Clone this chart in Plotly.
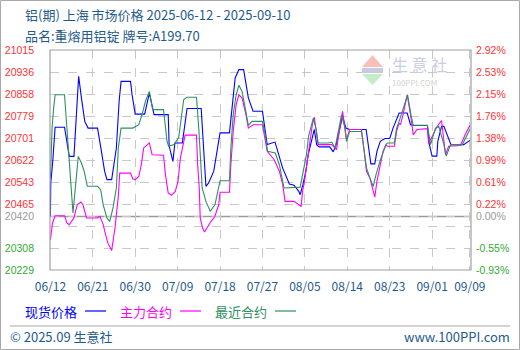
import numpy as np
import plotly.graph_objects as go

# ---- series: spot price, main contract, nearest contract ----
spot_dates = ["2025-06-12 00:00", "2025-06-12 02:00", "2025-06-12 12:00", "2025-06-13 00:00", "2025-06-15 00:00",
              "2025-06-15 10:00", "2025-06-16 00:00", "2025-06-17 00:00", "2025-06-18 00:00", "2025-06-18 14:00",
              "2025-06-19 07:00", "2025-06-20 00:00", "2025-06-22 00:00", "2025-06-22 17:00", "2025-06-23 12:00",
              "2025-06-24 00:00", "2025-06-25 00:00", "2025-06-26 00:00", "2025-06-26 14:00", "2025-06-27 00:00",
              "2025-06-29 00:00", "2025-06-29 08:00", "2025-06-30 00:00", "2025-07-02 00:00", "2025-07-03 00:00",
              "2025-07-04 00:00", "2025-07-07 00:00", "2025-07-07 05:00", "2025-07-08 00:00", "2025-07-08 10:00",
              "2025-07-10 00:00", "2025-07-11 00:00", "2025-07-14 00:00", "2025-07-15 00:00", "2025-07-15 14:00",
              "2025-07-16 16:00", "2025-07-17 12:00", "2025-07-18 00:00", "2025-07-20 00:00", "2025-07-20 10:00",
              "2025-07-20 19:00", "2025-07-21 05:00", "2025-07-22 00:00", "2025-07-23 00:00", "2025-07-24 00:00",
              "2025-07-25 00:00", "2025-07-27 00:00", "2025-07-28 00:00", "2025-07-29 16:00", "2025-07-31 07:00",
              "2025-08-01 17:00", "2025-08-02 17:00", "2025-08-03 17:00", "2025-08-04 00:00", "2025-08-04 14:00",
              "2025-08-05 05:00", "2025-08-05 17:00", "2025-08-06 10:00", "2025-08-07 00:00", "2025-08-07 12:00",
              "2025-08-08 00:00", "2025-08-10 07:00", "2025-08-11 00:00", "2025-08-11 14:00", "2025-08-12 07:00",
              "2025-08-13 00:00", "2025-08-13 17:00", "2025-08-14 12:00", "2025-08-18 00:00", "2025-08-18 10:00",
              "2025-08-19 00:00", "2025-08-19 20:00", "2025-08-20 07:00", "2025-08-21 00:00", "2025-08-22 00:00",
              "2025-08-23 00:00", "2025-08-23 17:00", "2025-08-25 00:00", "2025-08-26 17:00", "2025-08-27 10:00",
              "2025-08-28 00:00", "2025-08-31 00:00", "2025-08-31 10:00", "2025-09-01 00:00", "2025-09-02 00:00",
              "2025-09-02 05:00", "2025-09-03 00:00", "2025-09-03 12:00", "2025-09-04 05:00", "2025-09-05 00:00",
              "2025-09-07 17:00", "2025-09-09 00:00"]
spot_prices = [20420, 20540, 20617, 20739, 20739, 20689, 20635, 20635, 20921, 20844,
               20760, 20736, 20736, 20665, 20582, 20552, 20552, 20665, 20832, 20903,
               20903, 20855, 20786, 20786, 20861, 20784, 20784, 20671, 20617, 20683,
               20683, 20806, 20806, 20528, 20540, 20582, 20660, 20719, 20719, 20784,
               20867, 20915, 20945, 20945, 20844, 20796, 20796, 20677, 20686, 20593,
               20536, 20532, 20510, 20498, 20534, 20582, 20641, 20689, 20731, 20677,
               20669, 20669, 20651, 20673, 20724, 20778, 20736, 20731, 20731, 20677,
               20608, 20608, 20653, 20689, 20699, 20699, 20736, 20790, 20790, 20748,
               20745, 20745, 20677, 20636, 20636, 20689, 20742, 20742, 20712, 20677,
               20677, 20692]

main_dates = ["2025-06-12 00:00", "2025-06-12 11:00", "2025-06-13 00:00", "2025-06-15 00:00", "2025-06-15 12:00",
              "2025-06-16 00:00", "2025-06-16 12:00", "2025-06-17 00:00", "2025-06-17 08:00", "2025-06-17 17:00",
              "2025-06-18 11:00", "2025-06-18 22:00", "2025-06-19 16:00", "2025-06-22 00:00", "2025-06-22 12:00",
              "2025-06-23 05:00", "2025-06-23 17:00", "2025-06-24 05:00", "2025-06-25 00:00", "2025-06-25 07:00",
              "2025-06-25 17:00", "2025-06-26 00:00", "2025-06-26 10:00", "2025-06-26 17:00", "2025-06-29 00:00",
              "2025-06-29 12:00", "2025-06-30 00:00", "2025-06-30 18:00", "2025-07-01 07:00", "2025-07-01 19:00",
              "2025-07-03 00:00", "2025-07-03 14:00", "2025-07-06 00:00", "2025-07-06 10:00", "2025-07-07 00:00",
              "2025-07-07 17:00", "2025-07-08 12:00", "2025-07-09 02:00", "2025-07-09 14:00", "2025-07-10 14:00",
              "2025-07-13 00:00", "2025-07-13 06:00", "2025-07-13 14:00", "2025-07-13 19:00", "2025-07-14 07:00",
              "2025-07-14 17:00", "2025-07-15 10:00", "2025-07-16 02:00", "2025-07-16 22:00", "2025-07-17 08:00",
              "2025-07-17 17:00", "2025-07-18 00:00", "2025-07-20 00:00", "2025-07-20 07:00", "2025-07-20 19:00",
              "2025-07-21 10:00", "2025-07-22 00:00", "2025-07-22 16:00", "2025-07-23 12:00", "2025-07-24 00:00",
              "2025-07-25 00:00", "2025-07-27 00:00", "2025-07-27 10:00", "2025-07-28 00:00", "2025-07-29 12:00",
              "2025-07-30 14:00", "2025-07-31 07:00", "2025-07-31 19:00", "2025-08-02 17:00", "2025-08-03 17:00",
              "2025-08-04 05:00", "2025-08-04 12:00", "2025-08-04 22:00", "2025-08-05 12:00", "2025-08-06 02:00",
              "2025-08-06 14:00", "2025-08-07 00:00", "2025-08-07 10:00", "2025-08-07 19:00", "2025-08-10 17:00",
              "2025-08-11 17:00", "2025-08-12 07:00", "2025-08-13 00:00", "2025-08-13 12:00", "2025-08-13 20:00",
              "2025-08-14 12:00", "2025-08-17 00:00", "2025-08-17 12:00", "2025-08-18 02:00", "2025-08-18 19:00",
              "2025-08-19 10:00", "2025-08-19 20:00", "2025-08-20 07:00", "2025-08-21 00:00", "2025-08-21 14:00",
              "2025-08-22 05:00", "2025-08-22 12:00", "2025-08-24 00:00", "2025-08-24 11:00", "2025-08-25 00:00",
              "2025-08-25 07:00", "2025-08-25 20:00", "2025-08-26 17:00", "2025-08-27 10:00", "2025-08-28 00:00",
              "2025-08-28 19:00", "2025-08-31 00:00", "2025-08-31 06:00", "2025-09-01 00:00", "2025-09-02 00:00",
              "2025-09-03 00:00", "2025-09-03 20:00", "2025-09-04 12:00", "2025-09-07 00:00", "2025-09-08 00:00",
              "2025-09-09 00:00"]
main_prices = [20337, 20397, 20423, 20423, 20397, 20391, 20403, 20415, 20439, 20462,
               20472, 20462, 20415, 20415, 20421, 20391, 20355, 20325, 20299, 20331,
               20379, 20427, 20493, 20575, 20575, 20554, 20552, 20563, 20605, 20665,
               20683, 20641, 20639, 20569, 20504, 20496, 20510, 20546, 20629, 20711,
               20711, 20605, 20522, 20415, 20379, 20365, 20385, 20403, 20421, 20439,
               20462, 20507, 20507, 20605, 20724, 20820, 20855, 20844, 20784, 20736,
               20748, 20748, 20701, 20653, 20623, 20582, 20534, 20474, 20474, 20462,
               20456, 20510, 20546, 20617, 20689, 20748, 20775, 20712, 20677, 20677,
               20659, 20724, 20796, 20736, 20695, 20731, 20731, 20665, 20581, 20558,
               20522, 20489, 20546, 20605, 20653, 20677, 20671, 20671, 20724, 20754,
               20748, 20784, 20855, 20784, 20712, 20731, 20734, 20680, 20706, 20740,
               20763, 20641, 20671, 20674, 20712, 20745]

near_dates = ["2025-06-12 00:00", "2025-06-12 09:00", "2025-06-12 16:00", "2025-06-13 00:00", "2025-06-15 00:00",
              "2025-06-15 07:00", "2025-06-15 18:00", "2025-06-16 05:00", "2025-06-16 12:00", "2025-06-16 19:00",
              "2025-06-17 07:00", "2025-06-17 12:00", "2025-06-17 22:00", "2025-06-18 14:00", "2025-06-19 04:00",
              "2025-06-19 20:00", "2025-06-22 00:00", "2025-06-22 16:00", "2025-06-23 05:00", "2025-06-24 00:00",
              "2025-06-24 14:00", "2025-06-25 07:00", "2025-06-26 00:00", "2025-06-26 10:00", "2025-06-27 00:00",
              "2025-06-29 12:00", "2025-06-30 18:00", "2025-07-01 11:00", "2025-07-02 04:00", "2025-07-03 00:00",
              "2025-07-03 17:00", "2025-07-06 00:00", "2025-07-06 10:00", "2025-07-06 18:00", "2025-07-07 02:00",
              "2025-07-08 05:00", "2025-07-09 05:00", "2025-07-09 19:00", "2025-07-10 07:00", "2025-07-11 00:00",
              "2025-07-13 00:00", "2025-07-13 12:00", "2025-07-13 19:00", "2025-07-14 05:00", "2025-07-15 00:00",
              "2025-07-15 22:00", "2025-07-16 22:00", "2025-07-17 14:00", "2025-07-18 00:00", "2025-07-20 00:00",
              "2025-07-20 07:00", "2025-07-20 19:00", "2025-07-21 10:00", "2025-07-22 00:00", "2025-07-22 16:00",
              "2025-07-23 08:00", "2025-07-24 00:00", "2025-07-24 19:00", "2025-07-27 00:00", "2025-07-27 14:00",
              "2025-07-28 02:00", "2025-07-29 17:00", "2025-07-30 14:00", "2025-07-31 02:00", "2025-07-31 14:00",
              "2025-08-04 00:00", "2025-08-04 14:00", "2025-08-05 08:00", "2025-08-05 19:00", "2025-08-06 19:00",
              "2025-08-07 10:00", "2025-08-07 19:00", "2025-08-10 00:00", "2025-08-10 17:00", "2025-08-11 10:00",
              "2025-08-12 02:00", "2025-08-12 19:00", "2025-08-13 12:00", "2025-08-13 20:00", "2025-08-14 12:00",
              "2025-08-17 00:00", "2025-08-17 12:00", "2025-08-18 02:00", "2025-08-18 19:00", "2025-08-19 12:00",
              "2025-08-20 02:00", "2025-08-20 22:00", "2025-08-22 05:00", "2025-08-22 12:00", "2025-08-24 00:00",
              "2025-08-24 11:00", "2025-08-25 00:00", "2025-08-25 14:00", "2025-08-26 19:00", "2025-08-27 12:00",
              "2025-08-28 00:00", "2025-08-31 00:00", "2025-08-31 16:00", "2025-09-01 17:00", "2025-09-02 10:00",
              "2025-09-03 12:00", "2025-09-04 00:00", "2025-09-04 22:00", "2025-09-07 10:00", "2025-09-09 00:00"]
near_prices = [20555, 20742, 20803, 20855, 20855, 20784, 20689, 20582, 20510, 20433,
               20522, 20569, 20635, 20611, 20582, 20528, 20528, 20516, 20462, 20415,
               20403, 20451, 20522, 20665, 20736, 20736, 20748, 20784, 20832, 20867,
               20802, 20802, 20748, 20689, 20671, 20677, 20701, 20784, 20838, 20846,
               20846, 20731, 20635, 20522, 20474, 20439, 20462, 20510, 20548, 20548,
               20665, 20784, 20855, 20889, 20867, 20808, 20746, 20760, 20760, 20712,
               20653, 20647, 20605, 20563, 20522, 20525, 20582, 20641, 20708, 20772,
               20731, 20683, 20683, 20686, 20665, 20724, 20784, 20736, 20688, 20724,
               20724, 20665, 20593, 20558, 20528, 20569, 20617, 20677, 20683, 20683,
               20736, 20760, 20790, 20855, 20784, 20746, 20746, 20677, 20736, 20742,
               20677, 20636, 20677, 20677, 20731]

# ---- axis labels ----
base_price = 20420
y_min, y_max = 20229, 21015
left_labels = ["20229", "20308", "", "20465", "20543", "20622", "20701", "20779", "20858", "20936", "21015"]
right_labels = ["-0.93%", "-0.55%", "", "0.22%", "0.61%", "0.99%", "1.38%", "1.76%", "2.15%", "2.53%", "2.92%"]
x_tick_dates = ["2025-06-12", "2025-06-21", "2025-06-30", "2025-07-09", "2025-07-18", "2025-07-27",
                "2025-08-05", "2025-08-14", "2025-08-23", "2025-09-01", "2025-09-09"]
x_tick_text = ["06/12", "06/21", "06/30", "07/09", "07/18", "07/27", "08/05", "08/14", "08/23", "09/01", "09/09"]

RED, GREEN_LBL, GRAY = "#ff3333", "#33aa33", "#999999"
TEAL = "#1f5b8c"
C_SPOT, C_MAIN, C_NEAR = "#0000ff", "#ff00ff", "#2e9060"
FONT = "Noto Sans CJK SC"
NUM_FONT = "Liberation Sans"

W, H = 520, 350
L, R, T, B = 50, 471, 50, 270


def px(x):
    return (x - L) / (R - L)


def py(y):
    return (B - y) / (B - T)


grid_vals = list(np.linspace(y_min, y_max, 11))


def colored(txt, v):
    c = RED if v > base_price else GREEN_LBL
    return f"<span style='color:{c}'>{txt}</span>"


lt_vals = grid_vals + [base_price]
lt_text = [colored(t, v) for t, v in zip(left_labels, grid_vals)] + [f"<span style='color:{GRAY}'>20420</span>"]
rt_text = [colored(t, v) for t, v in zip(right_labels, grid_vals)] + [f"<span style='color:{GRAY}'>0.00%</span>"]

fig = go.Figure()
fig.add_trace(go.Scatter(x=spot_dates, y=spot_prices, mode="lines", line=dict(color=C_SPOT, width=1.1),
                         name="现货价格", hoverinfo="skip"))
fig.add_trace(go.Scatter(x=main_dates, y=main_prices, mode="lines", line=dict(color=C_MAIN, width=1.1),
                         name="主力合约", hoverinfo="skip"))
fig.add_trace(go.Scatter(x=near_dates, y=near_prices, mode="lines", line=dict(color=C_NEAR, width=1.1),
                         name="最近合约", hoverinfo="skip"))
# invisible trace that carries the percentage axis
fig.add_trace(go.Scatter(x=[spot_dates[0]], y=[base_price], yaxis="y2", mode="markers",
                         marker=dict(opacity=0), showlegend=False, hoverinfo="skip"))

shapes = []
# zero line at the base price
shapes.append(dict(type="line", xref="paper", yref="y", x0=0, x1=1, y0=base_price, y1=base_price,
                   line=dict(color="#9a9a9a", width=1.5), layer="below"))
# plot frame
shapes.append(dict(type="rect", xref="paper", yref="paper", x0=0, x1=1, y0=0, y1=1,
                   line=dict(color="#a0a0a0", width=1.2)))
# outer border of the image
shapes.append(dict(type="rect", xref="paper", yref="paper", x0=px(0.5), x1=px(W - 0.5), y0=py(0.5), y1=py(H - 0.5),
                   line=dict(color="#a8a8a8", width=1)))
# footer separator
shapes.append(dict(type="line", xref="paper", yref="paper", x0=px(10), x1=px(510), y0=py(326), y1=py(326),
                   line=dict(color="#aaaaaa", width=1)))
# legend line samples
for x0, c in [(85, C_SPOT), (180, C_MAIN), (275, C_NEAR)]:
    shapes.append(dict(type="line", xref="paper", yref="paper", x0=px(x0), x1=px(x0 + 21), y0=py(311), y1=py(311),
                       line=dict(color=c, width=1.2)))
# watermark logo: red triangle, grey band, green triangle
shapes.append(dict(type="path", xref="paper", yref="paper",
                   path=f"M {px(362)},{py(67)} L {px(372.5)},{py(55)} L {px(383)},{py(67)} Z",
                   fillcolor="#f6c0b8", line=dict(width=0), layer="below"))
shapes.append(dict(type="rect", xref="paper", yref="paper", x0=px(362), x1=px(383), y0=py(73), y1=py(68),
                   fillcolor="#c8cbe0", line=dict(width=0), layer="below"))
shapes.append(dict(type="path", xref="paper", yref="paper",
                   path=f"M {px(362)},{py(74)} L {px(383)},{py(74)} L {px(372.5)},{py(85)} Z",
                   fillcolor="#c4ecc8", line=dict(width=0), layer="below"))

annotations = []


def txt(x, y, s, color, size, anchor="left", family=FONT):
    annotations.append(dict(xref="paper", yref="paper", x=px(x), y=py(y), text=s, showarrow=False,
                            xanchor=anchor, yanchor="middle", borderpad=0,
                            font=dict(color=color, size=size, family=family)))


txt(24, 15, "铝(期) 上海 市场价格 2025-06-12 - 2025-09-10", TEAL, 13)
txt(24, 35, "品名:重熔用铝锭 牌号:A199.70", TEAL, 13)
txt(24, 311, "现货价格", C_SPOT, 13)
txt(119, 311, "主力合约", C_MAIN, 13)
txt(214, 311, "最近合约", C_NEAR, 13)
txt(9, 336, "© 2025.09 生意社", TEAL, 13)
txt(511, 336, "www.100PPI.com", TEAL, 13, anchor="right")
txt(391, 64, "生 意 社", "#c9cde2", 16)
txt(391, 82, "100PPI.COM", "#d2d2d2", 8)

fig.update_layout(
    width=W, height=H,
    margin=dict(l=L, r=W - R, t=T, b=H - B, pad=0, autoexpand=False),
    paper_bgcolor="white", plot_bgcolor="white",
    showlegend=False,
    font=dict(family=FONT, size=11),
    xaxis=dict(type="date", range=["2025-06-11 22:00", "2025-09-09 06:00"], automargin=False,
               tickvals=x_tick_dates, ticktext=x_tick_text, tickfont=dict(color=TEAL, size=12), tickangle=0,
               showgrid=True, gridcolor="#c8c8c8", griddash="dash", gridwidth=1,
               showline=False, zeroline=False, ticks="", ticklabelstandoff=8),
    yaxis=dict(range=[y_min, y_max], tickvals=lt_vals, ticktext=lt_text,
               tickfont=dict(size=10.5, family=NUM_FONT), automargin=False,
               showgrid=True, gridcolor="#c8c8c8", griddash="dash", gridwidth=1,
               zeroline=False, showline=False, ticks="", ticklabelstandoff=15),
    yaxis2=dict(range=[y_min, y_max], overlaying="y", side="right", tickvals=lt_vals, ticktext=rt_text,
                tickfont=dict(size=10.5, family=NUM_FONT), showgrid=False, zeroline=False, showline=False,
                ticks="", automargin=False, ticklabelstandoff=4),
    shapes=shapes,
    annotations=annotations,
)

fig.write_html("out.html")
